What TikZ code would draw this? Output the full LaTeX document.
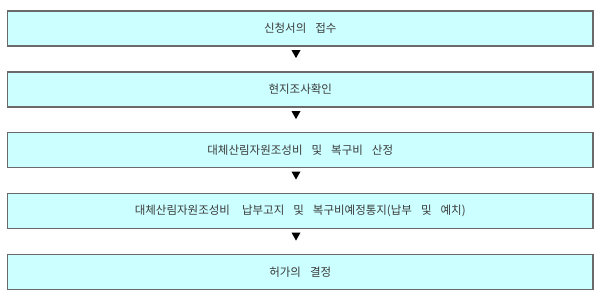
\documentclass[tikz,border=0pt]{standalone}
\usepackage{fontspec}
\newfontfamily\kr{Noto Sans CJK KR}
\usetikzlibrary{calc}
\definecolor{boxfill}{HTML}{CCFFFF}
\definecolor{boxline}{HTML}{6A6A6A}
\definecolor{txt}{HTML}{3A3A3A}
\newcommand\boxfont{\kr\fontsize{11.5pt}{14pt}\selectfont}
\newcommand\wsp{\hspace{9pt}}
\begin{document}
\begin{tikzpicture}[x=1pt,y=-1pt,
  stepbox/.style={draw=boxline, line width=1.2pt, fill=boxfill, minimum width=585.5pt, minimum height=35pt, inner sep=0pt, font=\boxfont, text=txt},
  tri/.style={fill=black}]
\useasboundingbox (0,0) rectangle (600,300);
\fill[white] (0,0) rectangle (600,300);
\node[stepbox] (b1) at (300.25,28.5) {신청서의\wsp 접수};
\node[stepbox] (b2) at (300.25,89.5) {현지조사확인};
\node[stepbox] (b3) at (300.25,150) {대체산림자원조성비\wsp 및\wsp 복구비\wsp 산정};
\node[stepbox] (b4) at (300.25,211) {대체산림자원조성비\wsp\hspace{3pt}납부고지\wsp 및\wsp 복구비예정통지(납부\wsp 및\wsp 예치)};
\node[stepbox] (b5) at (300.25,272) {허가의\wsp 결정};
\foreach \a in {b1,b2,b3,b4}{
  \fill[tri] ($(\a.south)+(-8.75pt,-3.5pt)$) -- ($(\a.south)+(0.25pt,-3.5pt)$) -- ($(\a.south)+(-4.25pt,-11.5pt)$) -- cycle;
}
\end{tikzpicture}
\end{document}
